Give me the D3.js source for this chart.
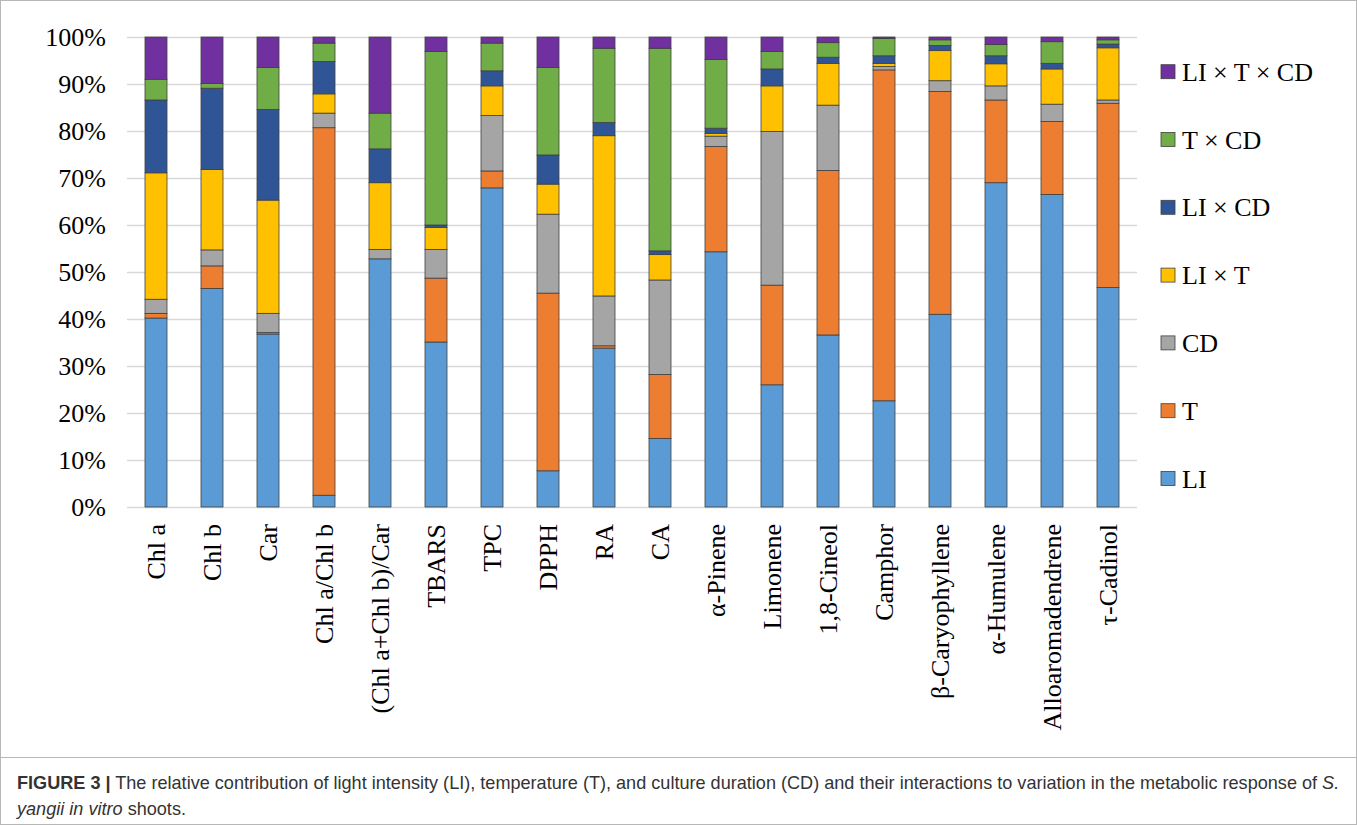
<!DOCTYPE html>
<html>
<head>
<meta charset="utf-8">
<script src="https://cdn.jsdelivr.net/npm/d3@7/dist/d3.min.js"></script>
<style>
  html, body { margin: 0; padding: 0; background: #fff; }
  svg { display: block; }
  .caption { font-family: "Liberation Sans", Arial, sans-serif; }
</style>
</head>
<body>
<svg id="chart" width="1357" height="825"></svg>
<script>
// Response variables (x axis)
const categories = ["Chl a", "Chl b", "Car", "Chl a/Chl b", "(Chl a+Chl b)/Car", "TBARS", "TPC", "DPPH", "RA", "CA",
  "α-Pinene", "Limonene", "1,8-Cineol", "Camphor", "β-Caryophyllene", "α-Humulene", "Alloaromadendrene", "τ-Cadinol"];

// Sources of variation, stacked bottom to top
const seriesNames = ["LI", "T", "CD", "LI × T", "LI × CD", "T × CD", "LI × T × CD"];

// Relative contribution (%) of each source, one value per category
const LI      = [40.2, 46.5, 36.8,  2.5, 52.8, 35.1, 67.9,  7.7, 33.8, 14.6, 54.3, 26.0, 36.6, 22.6, 41.0, 69.0, 66.5, 46.7];
const T       = [ 1.0,  4.8,  0.3, 78.2,  0.0, 13.6,  3.6, 37.8,  0.5, 13.6, 22.4, 21.2, 35.0, 70.4, 47.4, 17.6, 15.5, 39.2];
const CD      = [ 3.0,  3.4,  4.1,  3.1,  2.0,  6.1, 11.8, 16.8, 10.6, 20.1,  2.2, 32.7, 13.9,  0.7,  2.3,  3.0,  3.7,  0.7];
const LIxT    = [26.9, 17.1, 24.1,  4.1, 14.2,  4.7,  6.3,  6.4, 34.1,  5.4,  0.6,  9.7,  8.9,  0.7,  6.4,  4.7,  7.5, 11.1];
const LIxCD   = [15.5, 17.3, 19.3,  6.9,  7.2,  0.5,  3.2,  6.2,  2.8,  0.8,  1.1,  3.6,  1.3,  1.6,  1.1,  1.7,  1.2,  0.8];
const TxCD    = [ 4.4,  1.0,  8.9,  3.9,  7.6, 36.9,  5.9, 18.6, 15.8, 43.1, 14.6,  3.7,  3.1,  3.7,  1.2,  2.4,  4.6,  0.9];
const LIxTxCD = [ 9.0,  9.9,  6.5,  1.3, 16.2,  3.1,  1.3,  6.5,  2.4,  2.4,  4.8,  3.1,  1.2,  0.3,  0.6,  1.6,  1.0,  0.6];

const yTicks = [0, 10, 20, 30, 40, 50, 60, 70, 80, 90, 100];

const colors = ["#5b9bd5", "#ed7d31", "#a5a5a5", "#ffc000", "#2f5597", "#70ad47", "#7030a0"];

const seriesValues = [LI, T, CD, LIxT, LIxCD, TxCD, LIxTxCD];
const rows = categories.map((c, i) => {
  const r = { category: c };
  seriesNames.forEach((s, k) => { r[s] = seriesValues[k][i]; });
  return r;
});

const svg = d3.select("#chart");
const W = 1357, H = 825;

// Figure frame and caption divider
svg.append("rect").attr("x", 0.5).attr("y", 0.5).attr("width", W - 1).attr("height", H - 1)
  .attr("fill", "none").attr("stroke", "#b7b7b7").attr("stroke-width", 1);
svg.append("line").attr("x1", 0).attr("x2", W).attr("y1", 757.5).attr("y2", 757.5)
  .attr("stroke", "#b7b7b7").attr("stroke-width", 1);

const plot = { left: 128, right: 1136, top: 37, bottom: 507 };

const x = d3.scaleBand().domain(categories).range([plot.left, plot.right]).paddingInner(0.607).paddingOuter(0.3035);
const y = d3.scaleLinear().domain([0, 100]).range([plot.bottom, plot.top]);

const serif = "'Liberation Serif', 'Times New Roman', serif";

// Gridlines
svg.append("g").selectAll("line").data(yTicks).join("line")
  .attr("x1", plot.left - 1).attr("x2", plot.right + 1)
  .attr("y1", d => Math.round(y(d)) + 0.5).attr("y2", d => Math.round(y(d)) + 0.5)
  .attr("stroke", "#d9d9d9").attr("stroke-width", 1.3);

// Y axis labels
const yAxis = d3.axisLeft(y).tickValues(yTicks).tickFormat(d => d + "%").tickSize(0).tickPadding(22);
const yg = svg.append("g").attr("transform", `translate(${plot.left},0)`).call(yAxis);
yg.select(".domain").remove();
yg.selectAll("text").attr("font-family", serif).attr("font-size", 26).attr("fill", "#000");

// Stacked bars
const stack = d3.stack().keys(seriesNames);
const stacked = stack(rows);
svg.append("g").selectAll("g").data(stacked).join("g")
  .attr("fill", (d, i) => colors[i])
  .selectAll("rect").data(d => d).join("rect")
  .attr("x", d => x(d.data.category))
  .attr("width", x.bandwidth())
  .attr("y", d => y(d[1]))
  .attr("height", d => Math.max(0, y(d[0]) - y(d[1])))
  .attr("stroke", "#404040").attr("stroke-width", 0.8);

// X axis labels (rotated)
const xAxis = d3.axisBottom(x).tickSize(0).tickPadding(0);
const xg = svg.append("g").attr("transform", `translate(0,${plot.bottom})`).call(xAxis);
xg.select(".domain").remove();
xg.selectAll("text")
  .attr("font-family", serif).attr("font-size", 26).attr("fill", "#000")
  .attr("text-anchor", "end")
  .attr("transform", "rotate(-90)")
  .attr("x", -17).attr("y", 0).attr("dy", "0.33em");

// Legend, top entry is the last stacked series
const legendOrder = seriesNames.map((s, i) => ({ name: s, color: colors[i] })).reverse();
const lg = svg.append("g").selectAll("g").data(legendOrder).join("g")
  .attr("transform", (d, i) => `translate(1161, ${71.7 + i * 67.8})`);
lg.append("rect").attr("x", 0).attr("y", -7).attr("width", 14).attr("height", 14)
  .attr("fill", d => d.color).attr("stroke", "#404040").attr("stroke-width", 0.8);
lg.append("text").attr("x", 21).attr("y", 0).attr("dy", "0.35em")
  .attr("font-family", serif).attr("font-size", 26).attr("fill", "#000")
  .text(d => d.name);

// Caption
const cap = svg.append("text").attr("class", "caption").attr("x", 17).attr("y", 789)
  .attr("font-size", 18.1).attr("fill", "#333");
cap.append("tspan").attr("font-weight", "bold").text("FIGURE 3 |");
cap.append("tspan").text(" The relative contribution of light intensity (LI), temperature (T), and culture duration (CD) and their interactions to variation in the metabolic response of ")
cap.append("tspan").attr("font-style", "italic").text("S.");
const cap2 = svg.append("text").attr("class", "caption").attr("x", 17).attr("y", 815)
  .attr("font-size", 18.1).attr("fill", "#333");
cap2.append("tspan").attr("font-style", "italic").text("yangii in vitro");
cap2.append("tspan").text(" shoots.");
</script>
</body>
</html>
